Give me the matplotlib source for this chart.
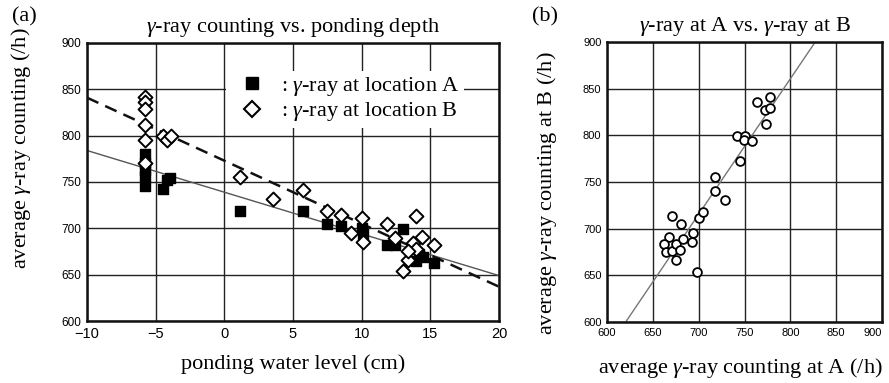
import matplotlib
matplotlib.use("Agg")
import matplotlib.pyplot as plt
from matplotlib.lines import Line2D
import numpy as np

plt.rcParams['font.family'] = ['Liberation Serif', 'DejaVu Serif']
plt.rcParams['mathtext.fontset'] = 'custom'
plt.rcParams['mathtext.rm'] = 'Liberation Serif'
plt.rcParams['mathtext.it'] = 'Liberation Serif:italic'

TICKFONT = ['Liberation Sans Narrow', 'Liberation Sans', 'DejaVu Sans']
FS = 16

# (a) counting vs ponding depth
depth_a = [-5.75, -5.75, -5.75, -5.75, -5.75, -4.47, -4.17, -3.93, 1.12, 5.73,
           7.48, 8.52, 10.05, 10.1, 11.84, 12.4, 13.0, 13.98, 14.47, 15.24, 14.2]
count_a = [780, 770, 763, 757, 746, 742, 752, 754, 719, 719,
           705, 703, 700, 694, 682, 682, 699, 665, 669, 663, 672]

depth_b = [-5.75, -5.75, -5.75, -5.75, -5.75, -5.75, -4.47, -4.2, -3.9, 1.12,
           3.54, 5.73, 7.48, 8.52, 9.25, 10.05, 10.1, 11.84, 12.4, 13.0,
           13.37, 13.74, 13.98, 13.98, 14.42, 15.24, 13.37]
count_b = [842, 836, 829, 811, 795, 771, 800, 795, 800, 755,
           732, 741, 719, 714, 695, 711, 685, 705, 690, 654,
           666, 684, 713, 678, 691, 682, 676]

# regression lines (slope, intercept)
fit_a = (-4.5, 739.0)
fit_b = (-6.8, 773.0)

# (b) A vs B
ray_a = [670.4, 680.2, 667.8, 662.0, 664.2, 670.4, 675.1, 679.5, 675.1, 683.1,
         692.2, 694.0, 698.4, 700.6, 704.3, 718.1, 718.1, 729.0, 745.1, 741.5,
         750.6, 749.5, 757.9, 763.3, 772.4, 777.9, 777.9, 773.5]
ray_b = [713.7, 704.8, 690.9, 683.8, 674.5, 676.6, 683.8, 677.3, 666.7, 688.9,
         685.2, 695.2, 653.5, 711.2, 718.3, 755.7, 740.8, 730.8, 772.5, 799.2,
         799.2, 795.0, 794.2, 835.9, 827.0, 829.8, 841.2, 811.7]
fit_ab = (1.451, -300.2)

fig = plt.figure(figsize=(8.89, 3.83), dpi=100)
ax1 = fig.add_axes([87/889, 62/383, 412/889, 278/383])
ax2 = fig.add_axes([607/889, 61/383, 275/889, 280/383])

for ax in (ax1, ax2):
    ax.grid(True, color='#222222', linewidth=1.0)
    ax.set_axisbelow(True)
    ax.tick_params(length=0, pad=4)
    for s in ax.spines.values():
        s.set_linewidth(1.8)
        s.set_color('#111111')

# panel a
xx = np.array([-10, 20])
ax1.plot(xx, fit_a[0]*xx + fit_a[1], color='#555555', lw=1.0, zorder=2)
ax1.plot(xx, fit_b[0]*xx + fit_b[1], color='#111111', lw=1.8, ls=(0, (5, 3)), zorder=2)
ax1.scatter(depth_a, count_a, marker='s', s=46, color='black', zorder=3)
ax1.scatter(depth_b, count_b, marker='D', s=50, facecolor='white', edgecolor='black',
            linewidth=1.4, zorder=4)
ax1.set_xlim(-10, 20)
ax1.set_ylim(600, 900)
ax1.set_xticks(np.arange(-10, 21, 5))
ax1.set_yticks(np.arange(600, 901, 50))
for lab in ax1.get_xticklabels():
    lab.set_fontfamily(TICKFONT)
    lab.set_fontsize(10.5)
for lab in ax1.get_yticklabels():
    lab.set_fontfamily(TICKFONT)
    lab.set_fontsize(8.5)

handles = [Line2D([], [], ls='none', marker='s', ms=9, color='black'),
           Line2D([], [], ls='none', marker='D', ms=8, mfc='white', mec='black', mew=1.5)]
leg = ax1.legend(handles, [r': $\gamma$-ray at location A', r': $\gamma$-ray at location B'],
                 loc='upper left', bbox_to_anchor=(0.31, 0.94), fontsize=FS,
                 frameon=True, framealpha=1, edgecolor='none', facecolor='white',
                 handletextpad=0.3, labelspacing=0.1, borderpad=0.2, fancybox=False)

ax1.set_title(r'$\gamma$-ray counting vs. ponding depth', fontsize=FS, pad=8)
ax1.set_xlabel('ponding water level (cm)', fontsize=FS)
ax1.set_ylabel(r'average $\gamma$-ray counting (/h)', fontsize=FS)
ax1.xaxis.set_label_coords(0.5, -0.12)
ax1.yaxis.set_label_coords(-0.13, 0.62)

# panel b
xb = np.array([600, 900])
ax2.plot(xb, fit_ab[0]*xb + fit_ab[1], color='#777777', lw=1.0, zorder=2)
ax2.scatter(ray_a, ray_b, marker='o', s=40, facecolor='white', edgecolor='black',
            linewidth=1.3, zorder=3)
ax2.set_xlim(600, 900)
ax2.set_ylim(600, 900)
ax2.set_xticks(np.arange(600, 901, 50))
ax2.set_yticks(np.arange(600, 901, 50))
for lab in ax2.get_xticklabels() + ax2.get_yticklabels():
    lab.set_fontfamily(TICKFONT)
    lab.set_fontsize(8)
ax2.get_xticklabels()[-1].set_horizontalalignment('right')

ax2.set_title(r'$\gamma$-ray at A vs. $\gamma$-ray at B', fontsize=FS, pad=8)
ax2.set_xlabel(r'average $\gamma$-ray counting at A (/h)', fontsize=FS)
ax2.set_ylabel(r'average $\gamma$-ray counting at B (/h)', fontsize=FS)
ax2.xaxis.set_label_coords(0.484, -0.12)
ax2.yaxis.set_label_coords(-0.175, 0.46)

fig.text(12/889, 1 - 17/383, '(a)', fontsize=FS, va='center')
fig.text(532/889, 1 - 17/383, '(b)', fontsize=FS, va='center')

fig.savefig('out.png', dpi=100)
